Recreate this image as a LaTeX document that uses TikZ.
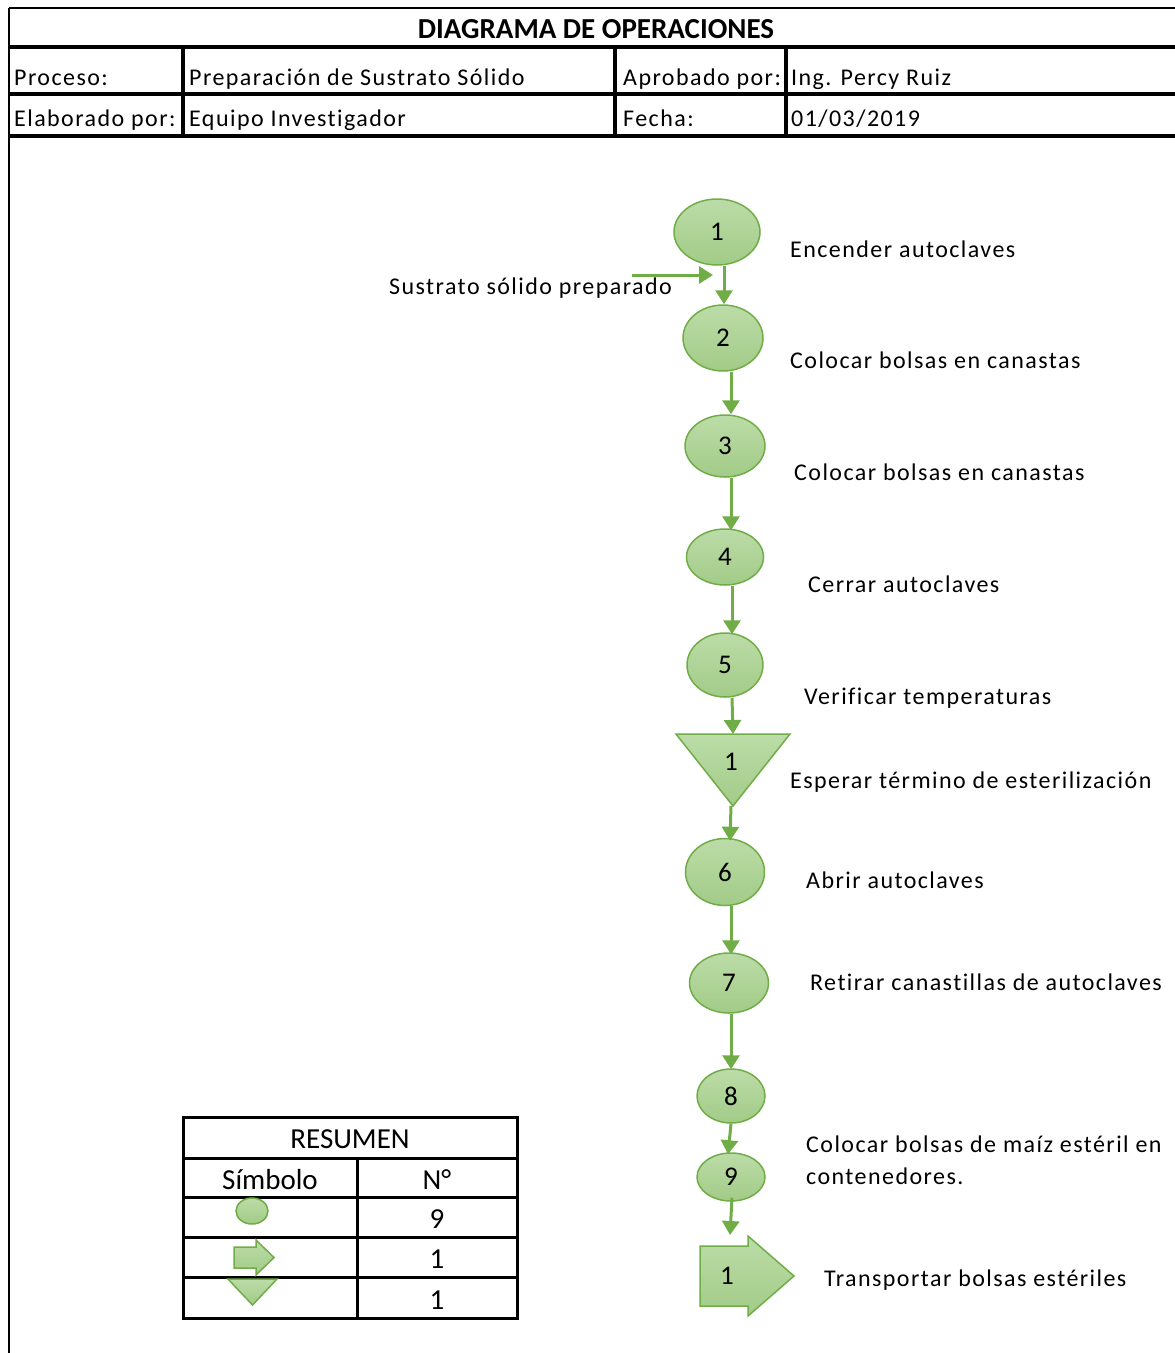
\documentclass[tikz,border=0pt]{standalone}
\usepackage{fontspec}
\setmainfont[Ligatures=NoCommon]{Carlito}
\newfontfamily\lblfont[LetterSpace=6,Ligatures=NoCommon]{Carlito}
\usetikzlibrary{shapes.geometric,arrows.meta}

\definecolor{opEdge}{HTML}{70AD47}
\definecolor{opTop}{HTML}{BCDCA8}
\definecolor{opBot}{HTML}{A2CB87}

\tikzset{
  op/.style={ellipse, draw=opEdge, line width=1.5pt, top color=opTop, bottom color=opBot,
    inner sep=0pt, font=\fontsize{27}{30}\selectfont},
  symfill/.style={draw=opEdge, line width=1.5pt, top color=opTop, bottom color=opBot},
  flow/.style={draw=opEdge, line width=3pt, -{Triangle[length=14pt,width=17pt]}},
  lbl/.style={anchor=base west, inner sep=0pt, font=\lblfont\fontsize{24}{32}\selectfont},
  numlbl/.style={inner sep=0pt, font=\fontsize{27}{30}\selectfont},
  hdr/.style={anchor=base west, inner sep=0pt, font=\lblfont\fontsize{24}{28}\selectfont},
  tbl/.style={anchor=base, inner sep=0pt, font=\fontsize{29}{32}\selectfont},
  thin rule/.style={line width=2pt},
  thick rule/.style={line width=4pt},
  table rule/.style={line width=3pt},
}

\begin{document}
\begin{tikzpicture}[x=1pt,y=-1pt]
\useasboundingbox (0,0) rectangle (1175,1353);

% ---- header block ----
\draw[thin rule] (9,8) -- (1175,8);
\draw[thin rule] (9,8) -- (9,1353);
\draw[thick rule] (9,47) -- (1175,47);
\draw[thick rule] (9,94) -- (1175,94);
\draw[thick rule] (9,136) -- (1175,136);
\foreach \xv in {183,615,786} \draw[thick rule] (\xv,45) -- (\xv,138);

\node[anchor=base, inner sep=0pt, font=\bfseries\fontsize{29}{32}\selectfont] (title) at (596,38) {DIAGRAMA DE OPERACIONES};
\node[hdr] (hp)  at (14,85)  {Proceso:};
\node[hdr] (hpv) at (189,85) {Preparación de Sustrato Sólido};
\node[hdr] (ha)  at (623,85) {Aprobado por:};
\node[hdr] (hav) at (791,85) {Ing. Percy Ruiz};
\node[hdr] (he)  at (14,126) {Elaborado por:};
\node[hdr] (hev) at (189,126) {Equipo Investigador};
\node[hdr] (hf)  at (623,126) {Fecha:};
\node[hdr] (hfv) at (791,126) {01/03/2019};

% ---- operations ----
\node[op, minimum width=86pt, minimum height=66pt] (o1) at (717,232)  {1};
\node[op, minimum width=80pt, minimum height=66pt] (o2) at (723,338)  {2};
\node[op, minimum width=80pt, minimum height=62pt] (o3) at (725,446)  {3};
\node[op, minimum width=77pt, minimum height=56pt] (o4) at (725,557)  {4};
\node[op, minimum width=76pt, minimum height=64pt] (o5) at (725,665)  {5};
\node[op, minimum width=79pt, minimum height=67pt] (o6) at (725,872)  {6};
\node[op, minimum width=79pt, minimum height=60pt] (o7) at (729,983)  {7};
\node[op, minimum width=68pt, minimum height=54pt] (o8) at (731,1096) {8};
\node[op, minimum width=68pt, minimum height=48pt] (o9) at (731,1177) {9};

% delay (downward triangle)
\path[symfill] (676,734) -- (790,734) -- (733,806) -- cycle;
\coordinate (d1top) at (733,734);
\coordinate (d1tip) at (731,806);
\node[numlbl] (d1) at (731,762) {1};

% transport (block arrow)
\path[symfill] (700,1246) -- (748,1246) -- (748,1236) -- (794,1276)
  -- (748,1316) -- (748,1306) -- (700,1306) -- cycle;
\coordinate (t1top) at (730,1235);
\node[numlbl] (t1) at (727,1276) {1};

% incoming material
\coordinate (inA) at (632,275);
\coordinate (inB) at (713,275);
\node[lbl] (inlbl) at (389,294) {Sustrato sólido preparado};
\draw[flow] (inA) -- (inB);

% flow connectors
\draw[flow] ([xshift=7pt]o1.south) -- ([xshift=1pt]o2.north);
\draw[flow] ([xshift=8pt]o2.south) -- ([xshift=6pt]o3.north);
\draw[flow] ([xshift=6pt]o3.south) -- ([xshift=6pt,yshift=-2pt]o4.north);
\draw[flow] ([xshift=7pt]o4.south) -- ([xshift=7pt,yshift=-2pt]o5.north);
\draw[flow] ([xshift=7pt]o5.south) -- (d1top);
\draw[flow] (d1tip) -- ([xshift=5pt,yshift=-3pt]o6.north);
\draw[flow] ([xshift=6pt]o6.south) -- ([xshift=2pt,yshift=-2pt]o7.north);
\draw[flow] ([xshift=2pt]o7.south) -- ([yshift=-1pt]o8.north);
\draw[flow] (o8.south) -- ([xshift=-3pt,yshift=-2pt]o9.north);
\draw[flow] ([xshift=1pt,yshift=4pt]o9.south) -- (t1top);

% step descriptions
\node[lbl] (l1)  at (790,257)  {Encender autoclaves};
\node[lbl] (l2)  at (790,368)  {Colocar bolsas en canastas};
\node[lbl] (l3)  at (794,480)  {Colocar bolsas en canastas};
\node[lbl] (l4)  at (808,592)  {Cerrar autoclaves};
\node[lbl] (l5)  at (804,704)  {Verificar temperaturas};
\node[lbl] (ld)  at (790,788)  {Esperar término de esterilización};
\node[lbl] (l6)  at (806,888)  {Abrir autoclaves};
\node[lbl] (l7)  at (810,990)  {Retirar canastillas de autoclaves};
\node[lbl] (l8a) at (806,1152) {Colocar bolsas de maíz estéril en};
\node[lbl] (l8b) at (806,1184) {contenedores.};
\node[lbl] (lt)  at (824,1286) {Transportar bolsas estériles};

% ---- summary table ----
\draw[table rule] (183,1117) rectangle (517,1318);
\foreach \yv in {1158,1197,1237,1277} \draw[table rule] (183,\yv) -- (517,\yv);
\draw[table rule] (357,1158) -- (357,1318);

\node[tbl] (rs)  at (350,1148) {RESUMEN};
\node[tbl] (rsy) at (270,1189) {Símbolo};
\node[tbl] (rsn) at (437,1189) {N°};
\node[tbl] (rn1) at (437,1228) {9};
\node[tbl] (rn2) at (437,1268) {1};
\node[tbl] (rn3) at (437,1309) {1};

\node[ellipse, draw=opEdge, line width=1.5pt, top color=opTop, bottom color=opBot,
  minimum width=32pt, minimum height=26pt, inner sep=0pt] (sop) at (252,1211) {};
\path[symfill] (234,1247) -- (256,1247) -- (256,1240) -- (274,1257.5)
  -- (256,1275) -- (256,1268) -- (234,1268) -- cycle;
\path[symfill] (228,1279) -- (277,1279) -- (252.5,1305) -- cycle;
\end{tikzpicture}
\end{document}
